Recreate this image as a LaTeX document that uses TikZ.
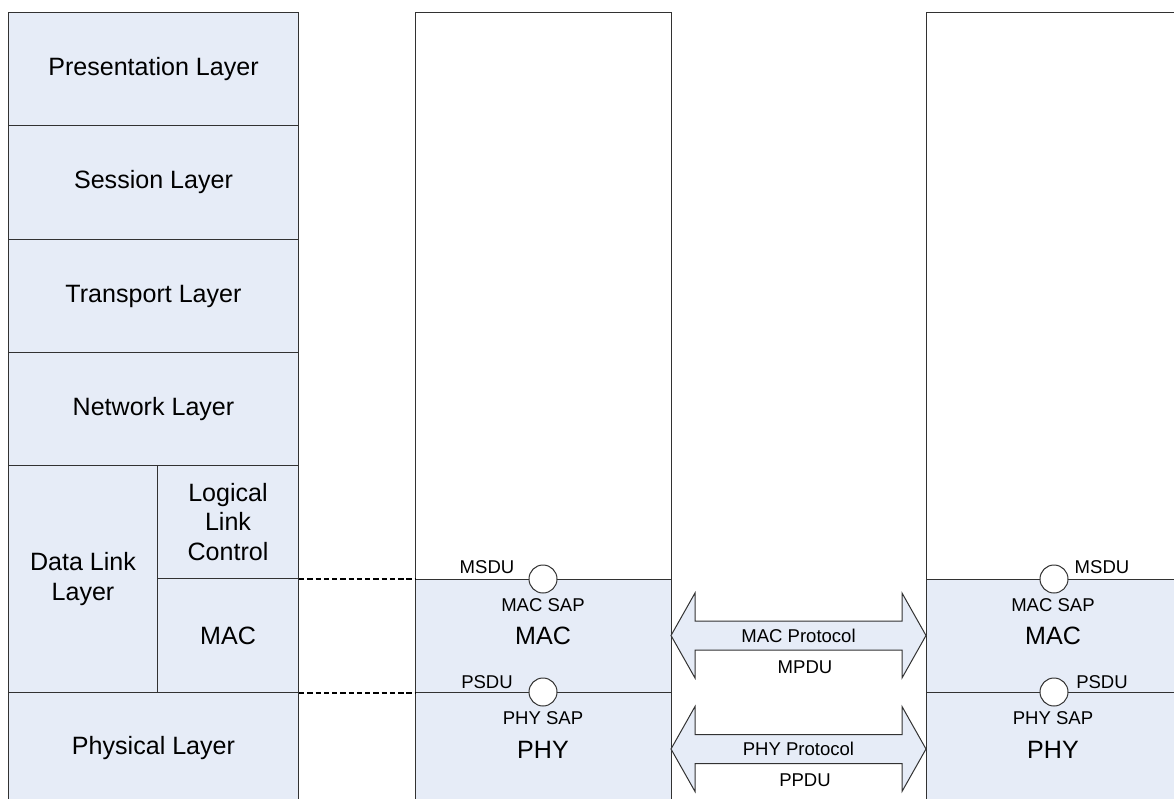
\documentclass[tikz,border=0pt]{standalone}
\usepackage{fontspec}
\setmainfont{Liberation Sans}
\usetikzlibrary{calc}
\newdimen\pxu \pxu=0.75pt
\definecolor{layerfill}{RGB}{230,236,247}
\definecolor{edge}{RGB}{50,50,50}
\tikzset{
  x=0.75pt, y=-0.75pt,
  box/.style={draw=edge, line width=1\pxu, fill=layerfill, inner sep=0pt,
    anchor=north west, align=center, font=\fontsize{18.8}{22.8}\selectfont},
  blank/.style={box, fill=white},
  big/.style={font=\fontsize{18.8}{22.8}\selectfont, inner sep=0pt},
  small/.style={font=\fontsize{13.9}{16}\selectfont, inner sep=0pt},
  sap/.style={circle, draw=edge, line width=1\pxu, fill=white, minimum size=28\pxu, inner sep=0pt},
  link/.style={draw=black, line width=1.2\pxu, dash pattern=on 4pt off 2.2pt},
  arrowshape/.style={draw=edge, line width=1\pxu, fill=layerfill, line join=miter},
}
% double-headed block arrow between two tip points
\newcommand\duplexarrow[2]{%
  \draw[arrowshape] (#1) -- ([shift={(24,-42.5)}]#1) -- ([shift={(24,-14.5)}]#1)
    -- ([shift={(-24,-14.5)}]#2) -- ([shift={(-24,-42.5)}]#2) -- (#2)
    -- ([shift={(-24,42.5)}]#2) -- ([shift={(-24,14.5)}]#2)
    -- ([shift={(24,14.5)}]#1) -- ([shift={(24,42.5)}]#1) -- cycle;}
\begin{document}
\begin{tikzpicture}
\useasboundingbox (0,0) rectangle (1174,799);
\clip (0,0) rectangle (1174,799);

% OSI reference stack
\node[box, minimum width=290\pxu, minimum height=113\pxu] (pres) at (8,12) {Presentation Layer};
\node[box, minimum width=290\pxu, minimum height=114\pxu] (sess) at (8,125) {Session Layer};
\node[box, minimum width=290\pxu, minimum height=113\pxu] (trans) at (8,239) {Transport Layer};
\node[box, minimum width=290\pxu, minimum height=113\pxu] (net) at (8,352) {Network Layer};
\node[box, minimum width=149\pxu, minimum height=227\pxu] (dll) at (8,465) {Data Link\\Layer};
\node[box, minimum width=141\pxu, minimum height=113\pxu, font=\fontsize{18.8}{22.2}\selectfont] (llc) at (157,465) {Logical\\Link\\Control};
\node[box, minimum width=141\pxu, minimum height=114\pxu] (mac) at (157,578) {MAC};
\node[box, minimum width=290\pxu, minimum height=112\pxu] (phys) at (8,692) {Physical Layer};

% first station
\node[blank, minimum width=256\pxu, minimum height=567\pxu] (mtop) at (415,12) {};
\node[box, minimum width=256\pxu, minimum height=113\pxu] (mmac) at (415,579) {};
\node[box, minimum width=256\pxu, minimum height=120\pxu] (mphy) at (415,692) {};

% second station
\node[blank, minimum width=300\pxu, minimum height=567\pxu] (rtop) at (926,12) {};
\node[box, minimum width=300\pxu, minimum height=113\pxu] (rmac) at (926,579) {};
\node[box, minimum width=300\pxu, minimum height=120\pxu] (rphy) at (926,692) {};

% layer correspondence
\draw[link] (llc.south east) -- (llc.south east -| mmac.west);
\draw[link] (mac.south east) -- (mac.south east -| mphy.west);

% service access points
\node[sap] (msap1) at (543,579) {};
\node[sap] (psap1) at (543,692) {};
\node[sap] (msap2) at (1054,579) {};
\node[sap] (psap2) at (1054,692) {};

\node[small] (msdu1) at (487,567) {MSDU};
\node[small] (psdu1) at (487,682) {PSDU};
\node[small] (msdu2) at (1102,567) {MSDU};
\node[small] (psdu2) at (1102,682) {PSDU};

\node[small] (macsap1) at (543,605) {MAC SAP};
\node[big] (macl1) at (543,636) {MAC};
\node[small] (physap1) at (543,718) {PHY SAP};
\node[big] (phyl1) at (543,750) {PHY};
\node[small] (macsap2) at (1053,605) {MAC SAP};
\node[big] (macl2) at (1053,636) {MAC};
\node[small] (physap2) at (1053,718) {PHY SAP};
\node[big] (phyl2) at (1053,750) {PHY};

% peer protocols
\coordinate (ma) at (671,635.5);
\coordinate (mb) at (926,635.5);
\coordinate (pa) at (671,749);
\coordinate (pb) at (926,749);
\duplexarrow{ma}{mb}
\duplexarrow{pa}{pb}
\node[small] (macproto) at ($(ma)!0.5!(mb)$) {MAC Protocol};
\node[small] (mpdu) at (805,667) {MPDU};
\node[small] (phyproto) at ($(pa)!0.5!(pb)$) {PHY Protocol};
\node[small] (ppdu) at (805,780) {PPDU};
\end{tikzpicture}
\end{document}
